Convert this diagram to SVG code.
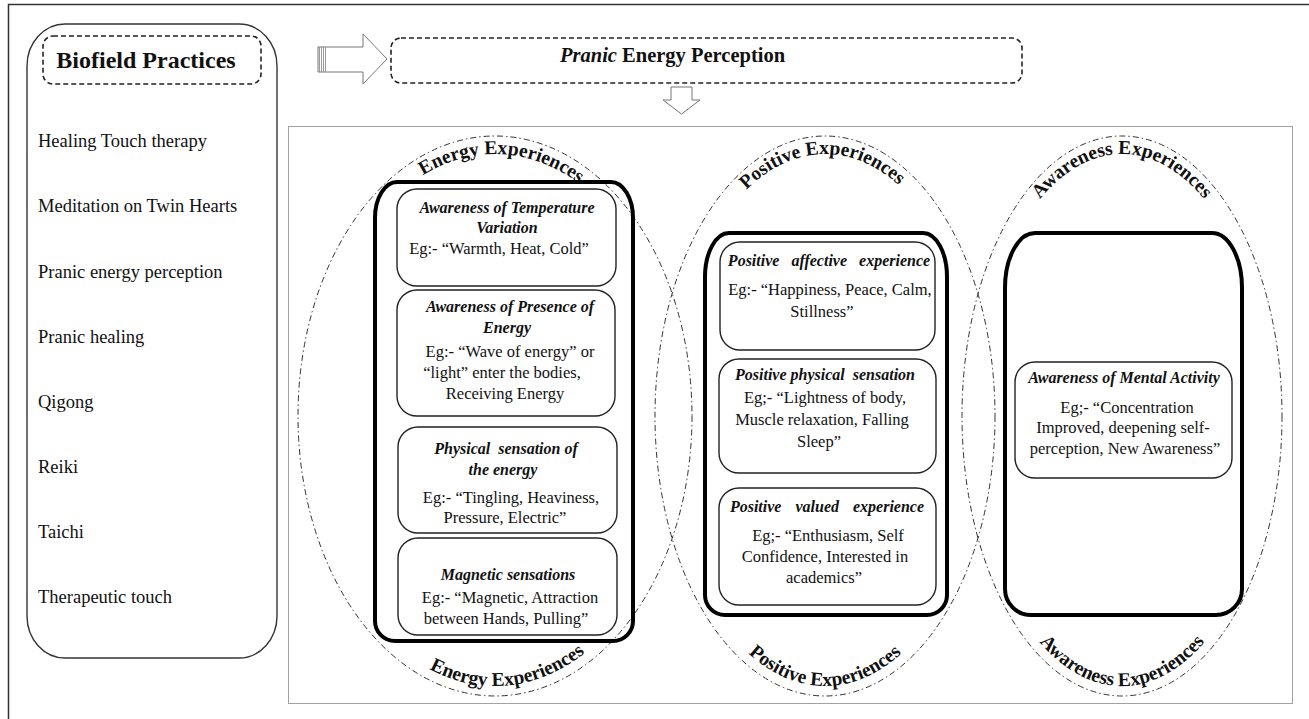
<svg xmlns="http://www.w3.org/2000/svg" width="1309" height="719" viewBox="0 0 1309 719">
<style>
 text { font-family: "Liberation Serif","Times New Roman",serif; fill:#111; }
 .list { font-size:18.5px; }
 .h { font-size:16px; font-weight:bold; font-style:italic; text-anchor:middle; }
 .b { font-size:16.5px; text-anchor:middle; }
 .arc { font-size:19.5px; font-weight:bold; text-anchor:middle; }
 .ell { fill:none; stroke:#333; stroke-width:1; stroke-dasharray:6 3 1.5 3; }
 .thick { fill:none; stroke:#000; stroke-width:4; }
 .card { fill:none; stroke:#222; stroke-width:1.4; }
 .pre { white-space:pre; }
 .dash { fill:none; stroke:#222; stroke-width:1.6; stroke-dasharray:5 3; }
 .hollow { fill:#fff; stroke:#777; stroke-width:1; }
</style>
<defs>
 <path id="eTop" d="M 312,416 A 183,262 0 0 1 678,416"/>
 <path id="pTop" d="M 669,416 A 156,262 0 0 1 981,416"/>
 <path id="aTop" d="M 976,416 A 146,262 0 0 1 1268,416"/>
 <path id="eBot" d="M 307,416 A 188,270 0 0 0 683,416"/>
 <path id="pBot" d="M 664,416 A 161,270 0 0 0 986,416"/>
 <path id="aBot" d="M 971,416 A 151,270 0 0 0 1273,416"/>
</defs>
<rect width="1309" height="719" fill="#fff"/>
<rect x="8.5" y="4.5" width="1310" height="730" fill="none" stroke="#333" stroke-width="1.5"/>

<g id="biofield-practices">
 <rect x="27" y="24" width="250" height="634" rx="38" ry="42" fill="none" stroke="#333" stroke-width="1.4"/>
 <rect x="43" y="36" width="218" height="48" rx="10" class="dash" stroke-width="2" stroke-dasharray="6 4"/>
 <text x="146" y="68" font-size="24" font-weight="bold" text-anchor="middle">Biofield Practices</text>
 <text class="list" x="38" y="147">Healing Touch therapy</text>
 <text class="list" x="38" y="212">Meditation on Twin Hearts</text>
 <text class="list" x="38" y="278">Pranic energy perception</text>
 <text class="list" x="38" y="343">Pranic healing</text>
 <text class="list" x="38" y="408">Qigong</text>
 <text class="list" x="38" y="473">Reiki</text>
 <text class="list" x="38" y="538">Taichi</text>
 <text class="list" x="38" y="603">Therapeutic touch</text>
</g>

<g id="pranic-energy-perception">
 <rect x="391" y="38" width="631" height="45" rx="10" class="dash"/>
 <text x="560" y="62" font-size="20.5" font-weight="bold"><tspan font-style="italic">Pranic</tspan> Energy Perception</text>
</g>

<g id="connectors">
 <path class="hollow" d="M318,47 H363 V34 L387,59 L363,84 V72 H318 Z"/>
 <g stroke="#999" stroke-width="1">
  <line x1="319.5" y1="47" x2="319.5" y2="72"/>
  <line x1="321.5" y1="47" x2="321.5" y2="72"/>
  <line x1="323.5" y1="47" x2="323.5" y2="72"/>
  <line x1="325.5" y1="47" x2="325.5" y2="72"/>
 </g>
 <path class="hollow" stroke="#444" d="M671,87 H692 V100 H700 L681.5,114 L663,100 H671 Z"/>
</g>

<g id="experiences-frame">
 <rect x="288.5" y="126.5" width="1004" height="577" fill="none" stroke="#444" stroke-width="1" stroke-dasharray="1 1"/>
</g>

<g id="energy-experiences">
 <ellipse class="ell" cx="495" cy="416" rx="197" ry="280"/>
 <text class="arc"><textPath href="#eTop" startOffset="51%">Energy Experiences</textPath></text>
 <text class="arc"><textPath href="#eBot" startOffset="52%">Energy Experiences</textPath></text>
 <path class="thick" d="M397,182 H611 A22,36 0 0 1 633,218 V621 A20,20 0 0 1 613,641 H395 A20,20 0 0 1 375,621 V218 A22,36 0 0 1 397,182 Z"/>
 <rect class="card" x="397" y="189" width="219" height="97" rx="20"/>
 <text class="h" x="507" y="213">Awareness of Temperature</text>
 <text class="h" x="507" y="233">Variation</text>
 <text class="b" x="499" y="254">Eg:- “Warmth, Heat, Cold”</text>
 <rect class="card" x="397" y="290" width="218" height="126" rx="20"/>
 <text class="h" x="510" y="312">Awareness of Presence of</text>
 <text class="h" x="507" y="333">Energy</text>
 <text class="b" x="510" y="357">Eg:- “Wave of energy” or</text>
 <text class="b" x="502" y="378">“light” enter the bodies,</text>
 <text class="b" x="505" y="399">Receiving Energy</text>
 <rect class="card" x="398" y="427" width="219" height="106" rx="20"/>
 <text class="h pre" x="506" y="454">Physical  sensation of</text>
 <text class="h" x="503" y="475">the energy</text>
 <text class="b" x="511" y="503">Eg:- “Tingling, Heaviness,</text>
 <text class="b" x="505" y="523">Pressure, Electric”</text>
 <rect class="card" x="398" y="538" width="219" height="97" rx="20"/>
 <text class="h" x="508" y="580">Magnetic sensations</text>
 <text class="b" x="510" y="603">Eg:- “Magnetic, Attraction</text>
 <text class="b" x="506" y="624">between Hands, Pulling”</text>
</g>

<g id="positive-experiences">
 <ellipse class="ell" cx="825" cy="416" rx="170" ry="280"/>
 <text class="arc"><textPath href="#pTop" startOffset="49.5%">Positive Experiences</textPath></text>
 <text class="arc"><textPath href="#pBot" startOffset="50%">Positive Experiences</textPath></text>
 <path class="thick" d="M729,233 H923 A24,44 0 0 1 947,277 V595 A20,20 0 0 1 927,615 H725 A20,20 0 0 1 705,595 V277 A24,44 0 0 1 729,233 Z"/>
 <rect class="card" x="720" y="242" width="215" height="108" rx="20"/>
 <text class="h pre" x="829" y="266" word-spacing="2">Positive  affective  experience</text>
 <text class="b" x="830" y="295">Eg:- “Happiness, Peace, Calm,</text>
 <text class="b" x="822" y="317">Stillness”</text>
 <rect class="card" x="719" y="359" width="217" height="114" rx="20"/>
 <text class="h pre" x="825" y="380">Positive physical  sensation</text>
 <text class="b" x="825" y="403">Eg;- “Lightness of body,</text>
 <text class="b" x="822" y="425">Muscle relaxation, Falling</text>
 <text class="b" x="819" y="447">Sleep”</text>
 <rect class="card" x="719" y="488" width="217" height="117" rx="20"/>
 <text class="h pre" x="827" y="512" word-spacing="3">Positive  valued  experience</text>
 <text class="b" x="828" y="541">Eg;- “Enthusiasm, Self</text>
 <text class="b" x="825" y="562">Confidence, Interested in</text>
 <text class="b" x="824" y="583">academics”</text>
</g>

<g id="awareness-experiences">
 <ellipse class="ell" cx="1122" cy="416" rx="160" ry="280"/>
 <text class="arc"><textPath href="#aTop" startOffset="50%">Awareness Experiences</textPath></text>
 <text class="arc"><textPath href="#aBot" startOffset="50%">Awareness Experiences</textPath></text>
 <path class="thick" d="M1035,233 H1212 A30,55 0 0 1 1242,288 V589 A26,26 0 0 1 1216,615 H1031 A26,26 0 0 1 1005,589 V288 A30,55 0 0 1 1035,233 Z"/>
 <rect class="card" x="1015" y="362" width="217" height="116" rx="20"/>
 <text class="h" x="1124" y="383">Awareness of Mental Activity</text>
 <text class="b" x="1127" y="413">Eg;- “Concentration</text>
 <text class="b" x="1123" y="433">Improved, deepening self-</text>
 <text class="b" x="1125" y="454">perception, New Awareness”</text>
</g>
</svg>
